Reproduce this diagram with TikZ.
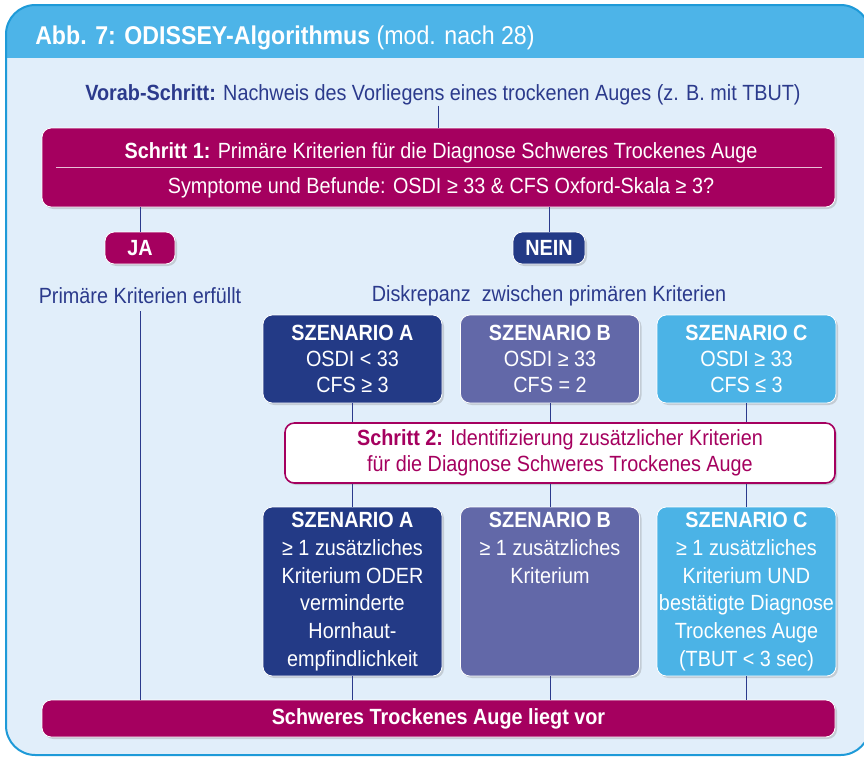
\documentclass[tikz,border=0pt]{standalone}
\usepackage{fontspec}
\setmainfont{Liberation Sans}[FakeStretch=0.9]
\usetikzlibrary{shadows,calc}
\definecolor{mag}{HTML}{A5005F}
\definecolor{navy}{HTML}{233A86}
\definecolor{vio}{HTML}{6268A8}
\definecolor{sky}{HTML}{4BB3E6}
\definecolor{bodyblue}{HTML}{E1EEFA}
\definecolor{frameblue}{HTML}{1E9AD8}
\definecolor{titleblue}{HTML}{4DB4E8}
\definecolor{linecol}{HTML}{2B3A8C}
\newdimen\pxu \pxu=0.75pt
\begin{document}
\begin{tikzpicture}[x=0.75pt,y=-0.75pt,
  box/.style={rounded corners=7pt, draw=white, line width=0.6pt,
    drop shadow={opacity=0.3,shadow xshift=1.5pt,shadow yshift=-1.5pt},
    inner sep=0pt, align=center},
  txt/.style={font=\fontsize{16.5}{19.5}\selectfont, align=center, inner sep=0pt},
  conn/.style={draw=linecol, line width=0.7pt},
  scen/.style={box, minimum width=179\pxu, text=white, font=\fontsize{16.5}{19.8}\selectfont}
]
\useasboundingbox (0,0) rectangle (864,757);
\clip (0,0) rectangle (864,757);
% frame
\path[fill=bodyblue, rounded corners=22pt] (6,5) rectangle (870,755);
\begin{scope}
  \clip[rounded corners=22pt] (6,5) rectangle (870,755);
  \fill[titleblue] (0,0) rectangle (872,58);
\end{scope}
\draw[frameblue, line width=1.5pt, rounded corners=22pt] (6,5) rectangle (870,755);

\node[anchor=west, text=white, inner sep=0pt, font=\fontsize{19.3}{21}\selectfont] (title) at (35,38)
  {\textbf{Abb. 7: ODISSEY-Algorithmus} (mod. nach 28)};

\node[txt, text=linecol] (vorab) at (443,95)
  {\textbf{Vorab-Schritt:} Nachweis des Vorliegens eines trockenen Auges (z. B. mit TBUT)};

% Schritt 1
\node[box, fill=mag, minimum width=793\pxu, minimum height=79\pxu] (s1) at (438.5,167.5) {};
\draw[white!75!mag, line width=1pt] ([xshift=11pt]s1.west) -- ([xshift=-10pt]s1.east);
\node[txt, text=white] (s1a) at (441,152.5)
  {\textbf{Schritt 1:} Primäre Kriterien für die Diagnose Schweres Trockenes Auge};
\node[txt, text=white] (s1b) at (441,187.5)
  {Symptome und Befunde: OSDI ≥ 33 \& CFS Oxford-Skala ≥ 3?};

% JA / NEIN
\node[box, fill=mag, text=white, minimum width=70\pxu, minimum height=32\pxu,
  font=\fontsize{16.5}{18}\selectfont\bfseries] (ja) at (140,248) {JA};
\node[box, fill=navy, text=white, minimum width=72\pxu, minimum height=32\pxu,
  font=\fontsize{16.5}{18}\selectfont\bfseries] (nein) at (549,248) {NEIN};

\node[txt, text=linecol] (prim) at (140,296) {Primäre Kriterien erfüllt};
\node[txt, text=linecol] (disk) at (549,296) {Diskrepanz\ \ zwischen primären Kriterien};

% row 1
\node[scen, fill=navy, minimum height=88\pxu] (a1) at (352.5,359)
  {\textbf{SZENARIO A}\\OSDI < 33\\CFS ≥ 3};
\node[scen, fill=vio, minimum height=88\pxu] (b1) at (550,359)
  {\textbf{SZENARIO B}\\OSDI ≥ 33\\CFS = 2};
\node[scen, fill=sky, minimum height=88\pxu] (c1) at (746.5,359)
  {\textbf{SZENARIO C}\\OSDI ≥ 33\\CFS ≤ 3};

% Schritt 2
\node[box, fill=white, draw=mag, line width=1.2pt, text=mag, minimum width=550\pxu,
  minimum height=60\pxu, font=\fontsize{16.5}{19.5}\selectfont] (s2) at (560,453)
  {\textbf{Schritt 2:} Identifizierung zusätzlicher Kriterien\\für die Diagnose Schweres Trockenes Auge};

% row 2
\node[scen, fill=navy, minimum height=169\pxu] (a2) at (352.5,591.5) {};
\node[scen, fill=vio, minimum height=169\pxu] (b2) at (550,591.5) {};
\node[scen, fill=sky, minimum height=169\pxu] (c2) at (746.5,591.5) {};
\node[txt, text=white, anchor=north, font=\fontsize{16.5}{20.8}\selectfont] (ta2) at ([yshift=-4pt]a2.north)
  {\textbf{SZENARIO A}\\≥ 1 zusätzliches\\Kriterium ODER\\verminderte\\Hornhaut-\\empfindlichkeit};
\node[txt, text=white, anchor=north, font=\fontsize{16.5}{20.8}\selectfont] (tb2) at ([yshift=-4pt]b2.north)
  {\textbf{SZENARIO B}\\≥ 1 zusätzliches\\Kriterium};
\node[txt, text=white, anchor=north, font=\fontsize{16.5}{20.8}\selectfont] (tc2) at ([yshift=-4pt]c2.north)
  {\textbf{SZENARIO C}\\≥ 1 zusätzliches\\Kriterium UND\\bestätigte Diagnose\\Trockenes Auge\\(TBUT < 3 sec)};

% final
\node[box, fill=mag, text=white, minimum width=793\pxu, minimum height=37\pxu,
  font=\fontsize{16.5}{18}\selectfont\bfseries] (fin) at (438.5,718.5) {Schweres Trockenes Auge liegt vor};

% connectors
\draw[conn] (vorab.south -| s1.north) -- (s1.north);
\draw[conn] (ja.north |- s1.south) -- (ja.north);
\draw[conn] (nein.north |- s1.south) -- (nein.north);
\draw[conn] ([yshift=-5pt]prim.south) -- (prim.south |- fin.north);
\foreach \n in {a,b,c}{
  \draw[conn] (\n1.south) -- (\n1.south |- s2.north);
  \draw[conn] (\n1.south |- s2.south) -- (\n2.north);
  \draw[conn] (\n2.south) -- (\n2.south |- fin.north);
}
\end{tikzpicture}
\end{document}
